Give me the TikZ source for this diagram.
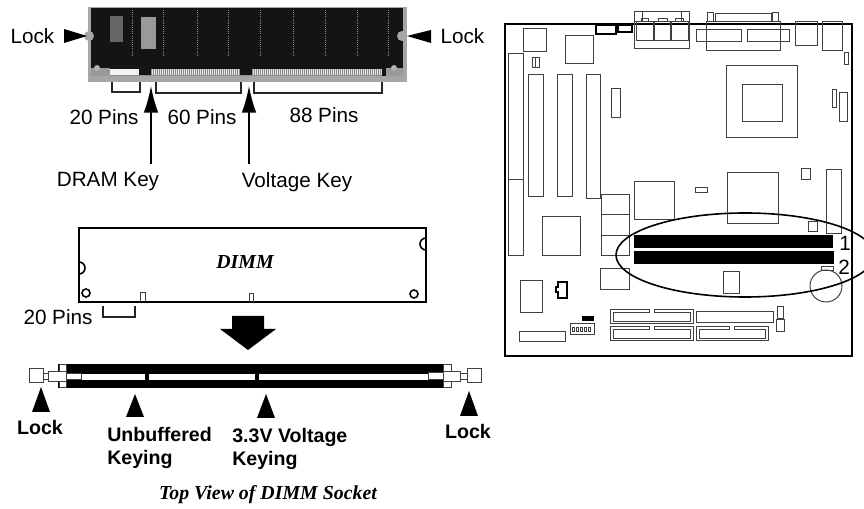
\documentclass[tikz,border=0pt]{standalone}
\usepackage{fontspec}
\setmainfont{Liberation Sans}
\newfontfamily\titrefont{Liberation Serif}
\usetikzlibrary{arrows.meta}
\begin{document}
\begin{tikzpicture}[x=0.75pt,y=-0.75pt]
% Styles
\tikzstyle{fleche}=[-{Latex[length=20pt,width=11pt]},line width=1.2pt]
\tikzstyle{crochet}=[line width=0.9pt,black!85]
\tikzstyle{etiquette}=[inner sep=0pt,font=\fontsize{15.5}{18}\selectfont]
\tikzstyle{etiquettegras}=[inner sep=0pt,align=left,font=\fontsize{14.7}{17}\selectfont\bfseries]
\tikzstyle{titre}=[inner sep=0pt,font=\fontsize{14.9}{18}\selectfont\titrefont\bfseries\itshape]
\tikzstyle{composant}=[line width=0.75pt,black!75]
\tikzstyle{contour}=[line width=1.2pt,black]
\tikzstyle{pointe}=[fill=black]
\useasboundingbox (0,0) rectangle (864,509);
% Barrette (photo)
\fill[black!35] (88,7) rectangle (407,82);
\fill[black!92] (91,8) rectangle (403,76);
\fill[black!40] (91,68) rectangle (110,76);
\fill[black!40] (386,68) rectangle (403,76);
\fill[black!5] (110,69) rectangle (139,75);
\fill[black!45] (151,69) rectangle (240,75);
\fill[black!45] (252,69) rectangle (382,75);
\foreach \x in {152,154,...,238,253,255,...,381} \fill[black!10] (\x,69) rectangle +(1,6);
\fill[black!45] (110,75) rectangle (382,76);
\fill[black!35] (89,36) circle (5);
\fill[black!35] (402,36) circle (5);
\fill[black!30] (97,68) circle (3);
\fill[black!30] (394,68) circle (3);
\fill[black!60] (110,16) rectangle (123,42);
\fill[black!40] (141,17) rectangle (156,49);
\foreach \x in {132,163,197,228,260,293,325,357,388} \draw[black!45,line width=0.6pt,densely dotted] (\x,10) -- (\x,56);
% Fleches de verrouillage
\fill[pointe] (64,29) -- (87,36) -- (64,43) -- cycle;
\fill[pointe] (431,30) -- (407,36) -- (431,43) -- cycle;
\node[etiquette] (LockA) at (32.5,36) {Lock};
\node[etiquette] (LockB) at (462.5,36) {Lock};
% Crochets
\draw[crochet] (112,82) -- (112,92) -- (140,92) -- (140,82);
\draw[crochet] (156,82) -- (156,93) -- (241,93) -- (241,82);
\draw[crochet] (254,82) -- (254,93) -- (382,93) -- (382,82);
\node[etiquette] (PinsA) at (104,117) {20 Pins};
\node[etiquette] (PinsB) at (202,117) {60 Pins};
\node[etiquette] (PinsC) at (324,115) {88 Pins};
% Detrompeurs
\node[etiquette] (KeyA) at (108,182) {DRAM Key};
\node[etiquette] (KeyB) at (297,182) {Voltage Key};
\coordinate (KeyAbas) at (151,164);
\coordinate (KeyAhaut) at (151,86);
\coordinate (KeyBbas) at (249,164);
\coordinate (KeyBhaut) at (249,86);
\draw[fleche] (KeyAbas)--(KeyAhaut);
\draw[fleche] (KeyBbas)--(KeyBhaut);
% Barrette (contour)
\draw[contour] (79,228) -- (426,228) -- (426,250) arc (90:270:6) -- (426,302) -- (79,302) -- (79,262) arc (-90:90:6) -- cycle;
\draw[composant] (140,302) -- (140,293) -- (145,293) -- (145,302);
\draw[composant] (249,302) -- (249,294) -- (253,294) -- (253,302);
\draw[contour] (86,293) circle (4);
\draw[contour] (414,294) circle (4);
\node[titre] (Dimm) at (245,262) {DIMM};
\node[etiquette] (PinsD) at (58,317) {20 Pins};
\draw[crochet] (103,306) -- (103,317) -- (135,317) -- (135,306);
\fill[pointe] (232,316) -- (264,316) -- (264,329) -- (276,329) -- (248,350) -- (220,329) -- (232,329) -- cycle;
% Support
\fill[black] (58,364) rectangle (451,388);
\fill[white] (81,374) rectangle (145,380);
\fill[white] (149,374) rectangle (255,380);
\fill[white] (259,374) rectangle (428,380);
\foreach \xa/\ya/\xb/\yb in {59/365/66/372,59/381/66/388,443/365/451/372,443/381/451/388,66/374/81/380,428/373/443/380,48/372/66/382,443/372/460/382,29/369/43/383,467/369/481/383,43/374/48/380,460/374/467/380}
  \draw[composant,fill=white] (\xa,\ya) rectangle (\xb,\yb);
% Triangles
\foreach \xa/\ya/\xb/\yc in {41/387/32/412,135/394/126/417,266/394/257/418,469/391/460/416}
  \fill[pointe] (\xa,\ya) -- (\xb,\yc) -- ({2*\xa-\xb},\yc) -- cycle;
\node[etiquettegras] (LockC) at (40,427) {Lock};
\node[etiquettegras] (LockD) at (468,431) {Lock};
\node[etiquettegras,anchor=north west] (KeyC) at (107,427) {Unbuffered\\Keying};
\node[etiquettegras,anchor=north west] (KeyD) at (232,428) {3.3V Voltage\\Keying};
\node[titre] (Titre) at (268,495) {Top View of DIMM Socket};
% Carte mere
\draw[contour] (505,24) rectangle (852,356);
\foreach \xa/\ya/\xb/\yb in {523/29/546/52,565/36/593/64,532/58/539/68,508/54/523/256,528/75/543/197,557/75/572/197,586/75/600/199,611/89/620/118,
  634/22/689/49,636/22/653/41,654/22/670/41,671/22/688/41,634/12/642/22,681/12/689/22,642/12/681/22,641/19/648/22,658/19/667/22,675/19/683/22,
  706/22/780/51,696/30/741/42,747/30/789/42,707/13/713/22,772/13/778/22,715/14/771/22,795/22/817/46,822/22/842/51,844/53/848/65,
  726/66/797/138,742/85/782/122,832/90/836/108,839/93/847/122,801/169/810/180,826/170/841/234,727/173/778/224,634/182/674/220,695/188/707/193,
  601/195/629/215,601/215/629/236,601/236/629/256,542/217/580/256,600/269/629/290,520/281/542/313,723/272/739/294,808/222/817/232,821/267/833/271,
  696/312/773/323,777/307/783/319,776/320/784/332,519/332/565/342,570/324/594/335}
  \draw[composant] (\xa,\ya) rectangle (\xb,\yb);
\draw[composant] (508,180) -- (523,180);
\draw[composant] (535,58) -- (535,68);
\draw[contour] (596,25) rectangle (616,34);
\draw[contour] (618,25) rectangle (632,32);
\draw[contour] (558,282) -- (567,282) -- (567,298) -- (558,298) -- (558,292) -- (556,292) -- (556,287) -- (558,287) -- cycle;
\fill[black] (582,316) rectangle (594,321);
\foreach \x in {572,576,...,590} \draw[composant,fill=white] (\x,328) rectangle +(2.5,4);
% Connecteurs IDE
\draw[composant] (610,310) -- (649,310) -- (649,313) -- (613,313) -- (613,322) -- (690,322) -- (690,313) -- (654,313) -- (654,310) -- (693,310) -- (693,324) -- (610,324) -- cycle;
\draw[composant] (610,327) -- (649,327) -- (649,330) -- (613,330) -- (613,339) -- (690,339) -- (690,330) -- (654,330) -- (654,327) -- (693,327) -- (693,341) -- (610,341) -- cycle;
\draw[composant] (696,327) -- (729,327) -- (729,330) -- (699,330) -- (699,339) -- (765,339) -- (765,330) -- (734,330) -- (734,327) -- (768,327) -- (768,341) -- (696,341) -- cycle;
% Emplacements DIMM
\fill[black] (634,235) rectangle (833,248);
\fill[black] (634,251) rectangle (834,264);
\draw[composant] (826,286) circle (16);
\draw[contour] (745,255) ellipse (129 and 42);
\node[etiquette] (SlotA) at (845,243) {1};
\node[etiquette] (SlotB) at (844,267) {2};
\end{tikzpicture}
\end{document}
